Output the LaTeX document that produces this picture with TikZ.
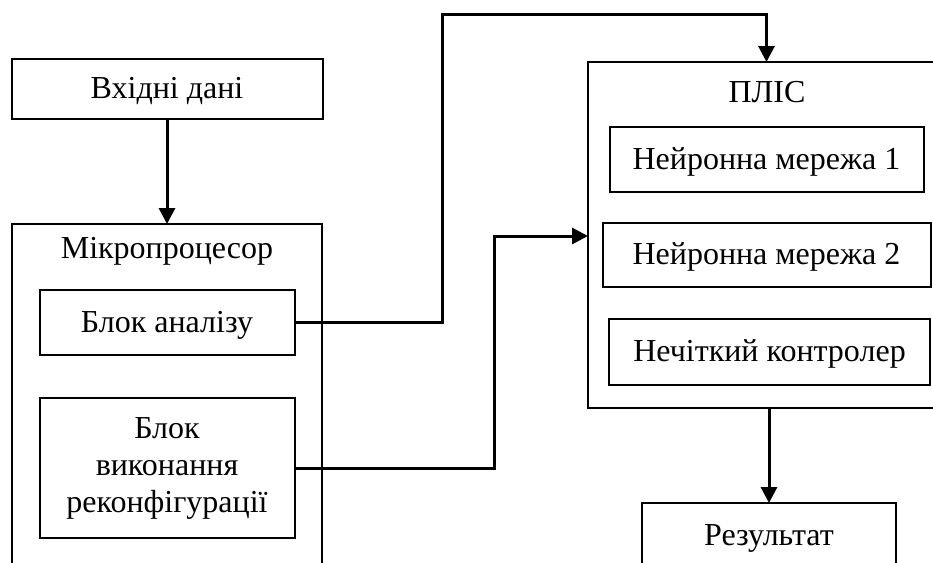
\documentclass[tikz,border=0pt]{standalone}
\usepackage{fontspec}
\setmainfont{Liberation Serif}
\usetikzlibrary{positioning,arrows.meta}

\begin{document}
\begin{tikzpicture}[x=0.5pt, y=-0.5pt, align=center,
        font=\fontsize{16}{18.5}\selectfont,
        block/.style={draw, line width=1pt, inner sep=0pt, outer sep=0pt},
        oneline/.style={text height=12pt, text depth=2.5pt},
        flow/.style={line width=1.5pt, -{Triangle[length=8pt, width=8pt]}}]
        \useasboundingbox (0,0) rectangle (933,563);
        \clip (0,0) rectangle (933,563);

        % Microprocessor side
        \node [block, minimum width=155pt, minimum height=200pt] (cpu) at (167,424) {};
        \node [anchor=base] (cputitle) at (167,258) {Мікропроцесор};
        \node [block, oneline, above=52.5pt of cpu, minimum width=155.5pt, minimum height=30pt] (input) {Вхідні дані};
        \node [block, oneline, below=33pt of cpu.north, minimum width=127.5pt, minimum height=32.5pt] (analysis) {Блок аналізу};
        \node [block, below=21.5pt of analysis, minimum width=127.5pt, minimum height=70pt] (reconf) {Блок\\виконання\\реконфігурації};

        % FPGA side
        \node [block, minimum width=178.5pt, minimum height=173pt] (fpga) at (766.5,235) {};
        \node [anchor=base] (fpgatitle) at (767,102) {ПЛІС};
        \node [block, oneline, below=32.5pt of fpga.north, minimum width=157pt, minimum height=32.5pt] (nn1) {Нейронна мережа 1};
        \node [block, oneline, below=15.5pt of nn1, minimum width=164pt, minimum height=32pt] (nn2) {Нейронна мережа 2};
        \node [block, oneline, below=16pt of nn2, xshift=1.5pt, minimum width=160.5pt, minimum height=33pt] (fuzzy) {Нечіткий контролер};
        \node [block, oneline, below=47.5pt of fpga, xshift=1.25pt, minimum width=127pt, minimum height=33pt] (result) {Результат};

        \coordinate (upturn) at (442,14);
        \coordinate (midturn) at (494,236);

        \draw [flow] (input) -- (cpu);
        \draw [flow] (analysis.east) -| (upturn) -| (fpga.north);
        \draw [flow] (reconf.east) -| (midturn) -- (midturn -| fpga.west);
        \draw [flow] (fpga.south -| result.north) -- (result.north);
    \end{tikzpicture}
\end{document}
